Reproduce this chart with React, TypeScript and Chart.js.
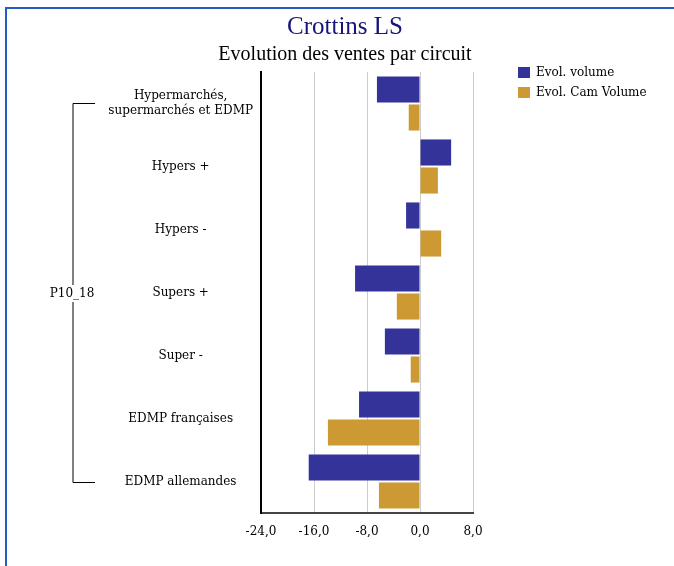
import React, { useEffect, useRef } from 'react';
import { Chart, registerables } from 'chart.js';

Chart.register(...registerables);

const categories: (string | string[])[] = [
  ['Hypermarchés,', 'supermarchés et EDMP'],
  'Hypers +',
  'Hypers -',
  'Supers +',
  'Super -',
  'EDMP françaises',
  'EDMP allemandes',
];
const evolVolume = [-6.5, 4.7, -2.1, -9.8, -5.3, -9.2, -16.8];
const evolCamVolume = [-1.7, 2.7, 3.2, -3.5, -1.4, -13.9, -6.2];
const seriesNames = ['Evol. volume', 'Evol. Cam Volume'];
const seriesColors = ['#333399', '#CC9933'];
const xMin = -24;
const xMax = 8;
const xStep = 8;
const titleText = 'Crottins LS';
const subtitleText = 'Evolution des ventes par circuit';
const groupLabel = 'P10_18';

const LABEL_FONT = '"DejaVu Serif", serif';
const TITLE_FONT = '"Liberation Serif", serif';

const decorPlugin = {
  id: 'decor',
  afterDraw(chart: any) {
    const ctx = chart.ctx as CanvasRenderingContext2D;
    const yScale = chart.scales.y;
    ctx.save();
    // frame
    ctx.strokeStyle = '#1f5fbf';
    ctx.lineWidth = 2;
    ctx.beginPath();
    ctx.moveTo(6, 600);
    ctx.lineTo(6, 8);
    ctx.lineTo(700, 8);
    ctx.stroke();

    // titles
    ctx.textAlign = 'center';
    ctx.textBaseline = 'middle';
    ctx.fillStyle = '#14147a';
    ctx.font = `25px ${TITLE_FONT}`;
    ctx.fillText(titleText, 345, 27);
    ctx.fillStyle = '#000000';
    ctx.font = `20px ${TITLE_FONT}`;
    ctx.fillText(subtitleText, 345, 55);

    // legend
    ctx.font = `12px ${LABEL_FONT}`;
    ctx.textAlign = 'left';
    seriesNames.forEach((name, i) => {
      const cy = 72.5 + i * 20;
      ctx.fillStyle = seriesColors[i];
      ctx.fillRect(518, cy - 5.5, 12, 11);
      ctx.fillStyle = '#000000';
      ctx.fillText(name, 536, cy);
    });

    // bracket
    const top = yScale.getPixelForValue(0);
    const bottom = yScale.getPixelForValue(categories.length - 1) + 1;
    const mid = (top + bottom) / 2;
    const bx = 73;
    ctx.strokeStyle = '#000000';
    ctx.lineWidth = 1;
    ctx.beginPath();
    ctx.moveTo(95, top);
    ctx.lineTo(bx, top);
    ctx.lineTo(bx, mid - 8);
    ctx.moveTo(bx, mid + 9);
    ctx.lineTo(bx, bottom);
    ctx.lineTo(95, bottom);
    ctx.stroke();
    ctx.fillStyle = '#000000';
    ctx.textAlign = 'center';
    ctx.fillText(groupLabel, 72, mid + 1);
    ctx.restore();
  },
};

export default function App() {
  const ref = useRef<HTMLCanvasElement | null>(null);
  useEffect(() => {
    if (!ref.current) return;
    const chart = new Chart(ref.current, {
      type: 'bar',
      data: {
        labels: categories as any,
        datasets: [
          {
            label: seriesNames[0],
            data: evolVolume,
            backgroundColor: seriesColors[0],
            categoryPercentage: 0.89,
            barPercentage: 0.93,
          },
          {
            label: seriesNames[1],
            data: evolCamVolume,
            backgroundColor: seriesColors[1],
            categoryPercentage: 0.89,
            barPercentage: 0.93,
          },
        ],
      },
      options: {
        indexAxis: 'y',
        responsive: false,
        animation: false,
        layout: { padding: { left: 0, top: 72, right: 201, bottom: 29 } },
        plugins: {
          legend: { display: false },
          title: { display: false },
          tooltip: { enabled: false },
        },
        scales: {
          x: {
            type: 'linear',
            min: xMin,
            max: xMax,
            ticks: {
              stepSize: xStep,
              color: '#000000',
              font: { family: LABEL_FONT, size: 12 },
              padding: 12,
              callback: (v: any) => Number(v).toFixed(1).replace('.', ','),
            },
            grid: { color: '#cccccc', lineWidth: 1, drawTicks: false },
            border: { color: '#444444', width: 2 },
            afterFit: (s: any) => {
              s.height = 24;
            },
          },
          y: {
            type: 'category',
            ticks: {
              color: '#000000',
              font: { family: LABEL_FONT, size: 12 },
              crossAlign: 'center',
              padding: 8,
              autoSkip: false,
            },
            grid: { display: false, drawTicks: false },
            border: { color: '#000000', width: 2 },
            afterFit: (s: any) => {
              s.width = 261;
            },
          },
        },
      },
      plugins: [decorPlugin],
    });
    return () => chart.destroy();
  }, []);
  return (
    <div style={{ position: 'fixed', left: 0, top: 0, width: 674, height: 566, background: '#fff' }}>
      <canvas ref={ref} width={674} height={566} style={{ display: 'block' }} />
    </div>
  );
}
